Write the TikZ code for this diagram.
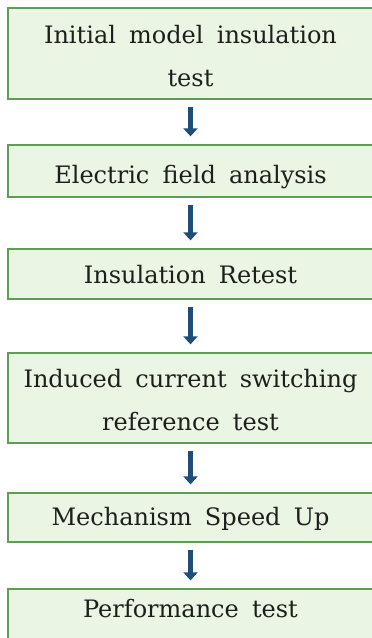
\documentclass[tikz,border=0pt]{standalone}
\usepackage{fontspec}
\setmainfont{DejaVu Serif}
\usetikzlibrary{arrows.meta}
\definecolor{boxfill}{HTML}{EAF5E3}
\definecolor{boxline}{HTML}{5E9E52}
\definecolor{arrowblue}{HTML}{1F4E79}
\definecolor{textcol}{HTML}{1E1E1E}
\newcommand{\widewords}{\spaceskip=13.2pt plus 2pt\relax}
\tikzset{
  stepbox/.style={draw=boxline, line width=1.3pt, fill=boxfill, rectangle,
    minimum width=365pt, inner sep=0pt},
  steptext/.style={anchor=base, inner sep=0pt, text=textcol,
    font=\fontsize{24}{43}\selectfont\widewords},
  flowarrow/.style={draw=arrowblue, line width=4.6pt,
    -{Triangle[width=14pt,length=8pt]}, shorten <=7pt, shorten >=8pt}
}
\begin{document}
\begin{tikzpicture}[x=1pt,y=-1pt]
\useasboundingbox (0,0) rectangle (372,638);
\clip (0,0) rectangle (372,638);
\node[stepbox, minimum height=91pt] (b1) at (190.5,53.5) {};
\node[stepbox, minimum height=52pt] (b2) at (190.5,171) {};
\node[stepbox, minimum height=50pt] (b3) at (190.5,274) {};
\node[stepbox, minimum height=90pt] (b4) at (190.5,398) {};
\node[stepbox, minimum height=49pt] (b5) at (190.5,517.5) {};
\node[stepbox, minimum height=50pt] (b6) at (190.5,614) {};
\node[steptext] (t1a) at (190.5,43) {Initial model insulation};
\node[steptext] (t1b) at (190.5,86) {test};
\node[steptext] (t2) at (190.5,183) {Electric field analysis};
\node[steptext] (t3) at (190.5,283) {Insulation Retest};
\node[steptext] (t4a) at (190.5,387) {Induced current switching};
\node[steptext] (t4b) at (190.5,430) {reference test};
\node[steptext] (t5) at (190.5,525) {Mechanism Speed Up};
\node[steptext] (t6) at (190.5,617) {Performance test};
\draw[flowarrow] (b1.south) -- (b2.north);
\draw[flowarrow] (b2.south) -- (b3.north);
\draw[flowarrow] (b3.south) -- (b4.north);
\draw[flowarrow] (b4.south) -- (b5.north);
\draw[flowarrow] (b5.south) -- (b6.north);
\end{tikzpicture}
\end{document}
